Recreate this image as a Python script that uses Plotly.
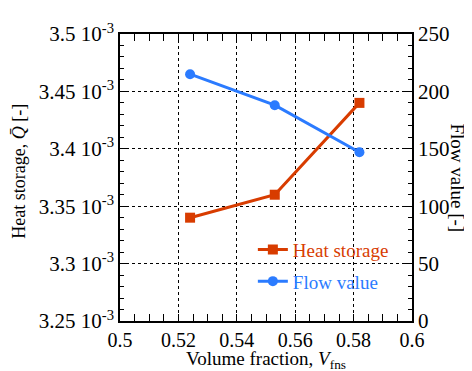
import plotly.graph_objects as go

volume_fraction = [0.524, 0.553, 0.582]
heat_storage = [3.34e-3, 3.36e-3, 3.44e-3]
flow_value = [215, 188, 147]

heat_ticks = [3.25e-3, 3.30e-3, 3.35e-3, 3.40e-3, 3.45e-3, 3.50e-3]
heat_tick_text = ["3.25 10<sup>-3</sup>", "3.3 10<sup>-3</sup>", "3.35 10<sup>-3</sup>",
                  "3.4 10<sup>-3</sup>", "3.45 10<sup>-3</sup>", "3.5 10<sup>-3</sup>"]
flow_ticks = [0, 50, 100, 150, 200, 250]
x_ticks = [0.5, 0.52, 0.54, 0.56, 0.58, 0.6]
x_tick_text = ["0.5", "0.52", "0.54", "0.56", "0.58", "0.6"]

RED = "#d83c00"
BLUE = "#2b7bff"
FONT = "Times New Roman, Liberation Serif, serif"
TICK_SIZE = 21

fig = go.Figure()
fig.add_trace(go.Scatter(
    x=volume_fraction, y=heat_storage, mode="lines+markers",
    name=f"<span style='color:{RED}'>Heat storage</span>",
    line=dict(color=RED, width=3), marker=dict(symbol="square", size=10, color=RED),
    legendgroup="a", yaxis="y"))
fig.add_trace(go.Scatter(
    x=volume_fraction, y=flow_value, mode="lines+markers",
    name=f"<span style='color:{BLUE}'>Flow value</span>",
    line=dict(color=BLUE, width=3), marker=dict(symbol="circle", size=10, color=BLUE),
    legendgroup="b", yaxis="y2"))

axis_common = dict(showline=True, linecolor="black", linewidth=1.5, ticks="inside",
                   ticklen=7, tickcolor="black", tickwidth=1, zeroline=False)

fig.update_layout(
    width=464, height=363,
    margin=dict(l=112, r=60, t=20, b=50),
    plot_bgcolor="white", paper_bgcolor="white",
    font=dict(family=FONT, size=TICK_SIZE, color="black"),
    xaxis=dict(range=[0.5, 0.6], tickvals=x_ticks, ticktext=x_tick_text,
               tickfont=dict(family=FONT, size=20, color="black"),
               mirror="allticks", showgrid=True, gridcolor="black", griddash="dot", gridwidth=1,
               minor=dict(dtick=0.005, tick0=0.5, ticks="inside", ticklen=4, tickcolor="black", showgrid=False),
               **axis_common),
    yaxis=dict(range=[3.25e-3, 3.5e-3], tickvals=heat_ticks, ticktext=heat_tick_text,
               tickfont=dict(family=FONT, size=TICK_SIZE, color="black"),
               showgrid=True, gridcolor="black", griddash="dot", gridwidth=1,
               minor=dict(dtick=0.01e-3, tick0=3.25e-3, ticks="inside", ticklen=4, tickcolor="black", showgrid=False),
               **axis_common),
    yaxis2=dict(range=[0, 250], tickvals=flow_ticks, overlaying="y", side="right",
                tickfont=dict(family=FONT, size=TICK_SIZE, color="black"),
                showgrid=False,
                minor=dict(dtick=10, tick0=0, ticks="inside", ticklen=4, tickcolor="black", showgrid=False),
                **axis_common),
    legend=dict(x=0.455, y=0.315, xanchor="left", yanchor="top", bgcolor="rgba(0,0,0,0)",
                font=dict(family=FONT, size=19), tracegroupgap=4, traceorder="grouped"),
    annotations=[
        dict(text="Flow value [-]", xref="paper", yref="paper", x=1.0, y=0.5,
             xshift=45, xanchor="center", yanchor="middle", textangle=90, showarrow=False,
             font=dict(family=FONT, size=19, color="black")),
        dict(text="Heat storage, <i>Q̄</i> [-]", xref="paper", yref="paper", x=0.0, y=0.52,
             xshift=-101, xanchor="center", yanchor="middle", textangle=-90, showarrow=False,
             font=dict(family=FONT, size=18, color="black")),
        dict(text="Volume fraction, <i>V</i><sub>fns</sub>", xref="paper", yref="paper", x=0.5, y=0.0,
             yshift=-39, xanchor="center", yanchor="middle", showarrow=False,
             font=dict(family=FONT, size=19, color="black")),
    ],
)

fig.write_html("out.html")
